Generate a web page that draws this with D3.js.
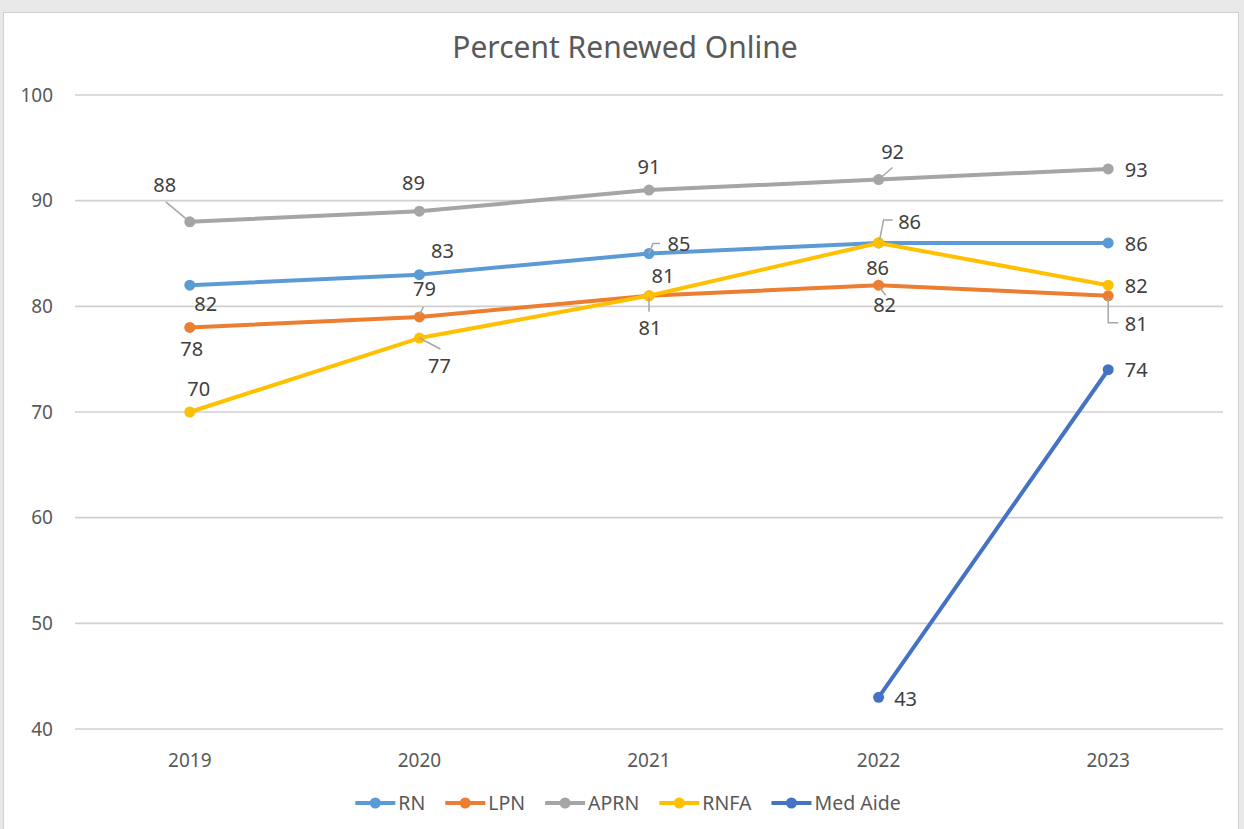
<!DOCTYPE html>
<html>
<head>
<meta charset="utf-8">
<script src="https://cdn.jsdelivr.net/npm/d3@7"></script>
<style>
  html, body { margin: 0; padding: 0; background: #e9e9e9; }
  svg { display: block; font-family: "Noto Sans", "Open Sans", sans-serif; }
</style>
</head>
<body>
<svg width="1244" height="829"></svg>
<script>
var years = ["2019", "2020", "2021", "2022", "2023"];
var yTicks = [40, 50, 60, 70, 80, 90, 100];

var rn       = [82, 83, 85, 86, 86];
var lpn      = [78, 79, 81, 82, 81];
var aprn     = [88, 89, 91, 92, 93];
var rnfa     = [70, 77, 81, 86, 82];
var medAide  = [null, null, null, 43, 74];

var seriesNames  = ["RN", "LPN", "APRN", "RNFA", "Med Aide"];
var seriesValues = [rn, lpn, aprn, rnfa, medAide];
var colors = ["#5B9BD5", "#ED7D31", "#A5A5A5", "#FFC000", "#4472C4"];

// label placement (offset from point) and optional leader line, per series per year
var labelLayout = {
  "RN":       [{d: [16, 19]}, {d: [23, -24]}, {d: [30, -10], l: [[0, 0], [4, -10], [11, -10]]}, {d: [-1, 25]}, {d: [28, 1]}],
  "LPN":      [{d: [2, 22]}, {d: [5, -28], l: [[0, -2], [4, -10]]}, {d: [1, 32], l: [[0, 2], [0, 16]]}, {d: [6, 20], l: [[1, 2], [7, 10]]}, {d: [28, 28], l: [[0, 2], [0, 27], [10, 27]]}],
  "APRN":     [{d: [-25, -37], l: [[0, 0], [-24, -20]]}, {d: [-6, -28]}, {d: [0, -23]}, {d: [14, -28], l: [[0, 0], [14, -12]]}, {d: [28, 1]}],
  "RNFA":     [{d: [9, -23]}, {d: [20, 28], l: [[0, 0], [21, 11]]}, {d: [14, -20]}, {d: [31, -21], l: [[1, -3], [5, -23], [14, -23]]}, {d: [28, 1]}],
  "Med Aide": [null, null, null, {d: [27, 2]}, {d: [28, 0]}]
};

var svg = d3.select("svg");

// chart frame
svg.append("rect")
  .attr("x", 3.5).attr("y", 12.5)
  .attr("width", 1235).attr("height", 830)
  .attr("fill", "#fff")
  .attr("stroke", "#d0d0d0");

var x = d3.scalePoint().domain(years).range([75, 1223]).padding(0.5);
var y = d3.scaleLinear().domain([40, 100]).range([729, 95]);

// title
svg.append("text")
  .attr("x", 625).attr("y", 58)
  .attr("text-anchor", "middle")
  .attr("font-size", 30)
  .attr("fill", "#595959")
  .text("Percent Renewed Online");

// gridlines
svg.append("g").selectAll("line")
  .data(yTicks)
  .enter().append("line")
  .attr("x1", 75).attr("x2", 1223)
  .attr("y1", function(d) { return y(d); })
  .attr("y2", function(d) { return y(d); })
  .attr("stroke", "#cfcfcf")
  .attr("stroke-width", 1.6);

// y tick labels
svg.append("g").selectAll("text")
  .data(yTicks)
  .enter().append("text")
  .attr("x", 53)
  .attr("y", function(d) { return y(d); })
  .attr("dy", "0.35em")
  .attr("text-anchor", "end")
  .attr("font-size", 19)
  .attr("fill", "#595959")
  .text(function(d) { return d; });

// x labels
svg.append("g").selectAll("text")
  .data(years)
  .enter().append("text")
  .attr("x", function(d) { return x(d); })
  .attr("y", 760)
  .attr("dy", "0.35em")
  .attr("text-anchor", "middle")
  .attr("font-size", 19)
  .attr("fill", "#595959")
  .text(function(d) { return d; });

var line = d3.line()
  .defined(function(d) { return d != null; })
  .x(function(d, i) { return x(years[i]); })
  .y(function(d) { return y(d); });

// series lines and markers
seriesValues.forEach(function(vals, s) {
  var g = svg.append("g");
  g.append("path")
    .datum(vals)
    .attr("d", line)
    .attr("fill", "none")
    .attr("stroke", colors[s])
    .attr("stroke-width", 4)
    .attr("stroke-linejoin", "round")
    .attr("stroke-linecap", "round");
  g.selectAll("circle")
    .data(vals.map(function(v, i) { return {v: v, i: i}; }).filter(function(d) { return d.v != null; }))
    .enter().append("circle")
    .attr("cx", function(d) { return x(years[d.i]); })
    .attr("cy", function(d) { return y(d.v); })
    .attr("r", 5.5)
    .attr("fill", colors[s]);
});

// leader lines and data labels
var labels = svg.append("g");
seriesValues.forEach(function(vals, s) {
  var layout = labelLayout[seriesNames[s]];
  vals.forEach(function(v, i) {
    if (v == null || !layout[i]) return;
    var px = x(years[i]), py = y(v);
    var lay = layout[i];
    if (lay.l) {
      labels.append("path")
        .attr("d", d3.line()(lay.l.map(function(p) { return [px + p[0], py + p[1]]; })))
        .attr("fill", "none")
        .attr("stroke", "#a6a6a6")
        .attr("stroke-width", 1.5);
    }
    labels.append("text")
      .attr("x", px + lay.d[0])
      .attr("y", py + lay.d[1])
      .attr("dy", "0.35em")
      .attr("text-anchor", "middle")
      .attr("font-size", 20)
      .attr("fill", "#404040")
      .text(v);
  });
});

// legend, centred under the plot
var legend = svg.append("g");
var lx = 0;
seriesNames.forEach(function(name, s) {
  var item = legend.append("g");
  item.append("line")
    .attr("x1", lx).attr("x2", lx + 40)
    .attr("y1", 803).attr("y2", 803)
    .attr("stroke", colors[s])
    .attr("stroke-width", 4);
  item.append("circle")
    .attr("cx", lx + 20).attr("cy", 803)
    .attr("r", 5.5)
    .attr("fill", colors[s]);
  var t = item.append("text")
    .attr("x", lx + 43)
    .attr("y", 803)
    .attr("dy", "0.35em")
    .attr("font-size", 19.5)
    .attr("fill", "#595959")
    .text(name);
  lx += 43 + t.node().getComputedTextLength();
  if (s < seriesNames.length - 1) lx += 20;
});
legend.attr("transform", "translate(" + (628 - lx / 2) + ",0)");
</script>
</body>
</html>
